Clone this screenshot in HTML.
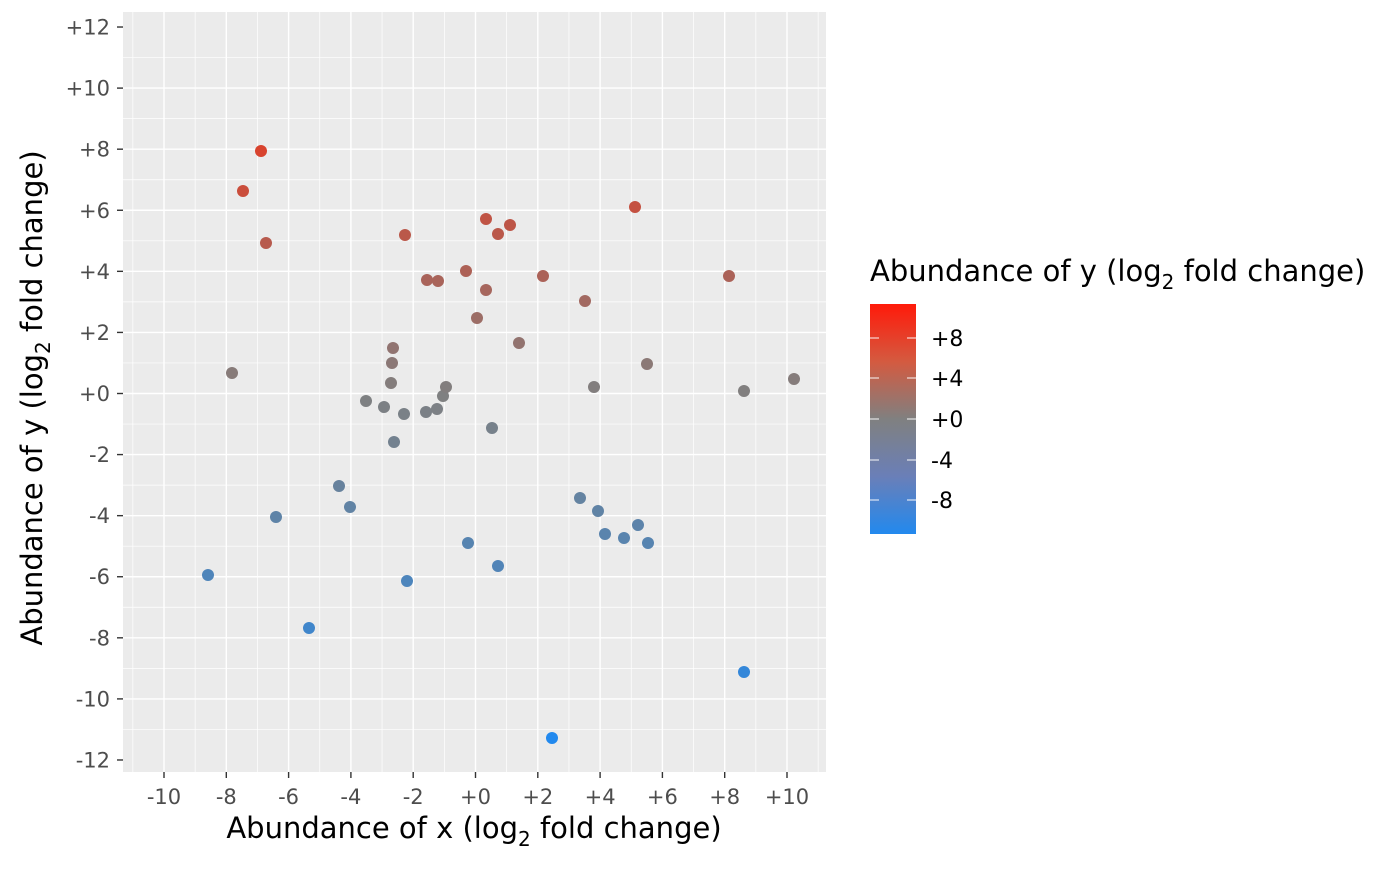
<!DOCTYPE html>
<html><head><meta charset="utf-8"><style>
body{margin:0;background:#fff;}
svg text{font-family:"DejaVu Sans","Liberation Sans",sans-serif;}
</style></head><body>
<svg id="s" width="1400" height="866" xmlns="http://www.w3.org/2000/svg">
<defs><linearGradient id="g" x1="0" y1="0" x2="0" y2="1">
<stop offset="0" stop-color="#ff1a0a"/>
<stop offset="0.25" stop-color="#d45a40"/>
<stop offset="0.5" stop-color="#808080"/>
<stop offset="0.75" stop-color="#6a7fb8"/>
<stop offset="1" stop-color="#2289ee"/>
</linearGradient></defs>
<rect x="123" y="12" width="703" height="760" fill="#ebebeb"/>
<g id="grid"></g>
<g id="pts"></g>
<g id="ax" fill="#4d4d4d" font-size="21"></g>
<text x="474" y="838" font-size="29" text-anchor="middle" fill="#000">Abundance of x (log<tspan font-size="20" dy="8">2</tspan><tspan dy="-8"> fold change)</tspan></text>
<text transform="translate(42,398) rotate(-90)" font-size="29" text-anchor="middle" fill="#000">Abundance of y (log<tspan font-size="20" dy="8">2</tspan><tspan dy="-8"> fold change)</tspan></text>
<text x="870" y="281" font-size="29" fill="#000">Abundance of y (log<tspan font-size="20" dy="8">2</tspan><tspan dy="-8"> fold change)</tspan></text>
<rect x="870" y="304" width="46" height="230" fill="url(#g)"/>
<g stroke="#fff" stroke-width="1.2" opacity="0.8">
<line x1="870" x2="879" y1="338" y2="338"/><line x1="907" x2="916" y1="338" y2="338"/>
<line x1="870" x2="879" y1="378" y2="378"/><line x1="907" x2="916" y1="378" y2="378"/>
<line x1="870" x2="879" y1="419" y2="419"/><line x1="907" x2="916" y1="419" y2="419"/>
<line x1="870" x2="879" y1="460" y2="460"/><line x1="907" x2="916" y1="460" y2="460"/>
<line x1="870" x2="879" y1="500" y2="500"/><line x1="907" x2="916" y1="500" y2="500"/>
</g>
<g font-size="22" fill="#000">
<text x="931" y="346">+8</text><text x="931" y="386">+4</text><text x="931" y="427">+0</text>
<text x="931" y="468">-4</text><text x="931" y="508">-8</text>
</g>
</svg>
<script>
var NS="http://www.w3.org/2000/svg";
function el(t,a,p){var e=document.createElementNS(NS,t);for(var k in a)e.setAttribute(k,a[k]);p.appendChild(e);return e;}
var grid=document.getElementById('grid'),ax=document.getElementById('ax'),pts=document.getElementById('pts');
function X(v){return 475.5+v*31.15;}function Y(v){return 393.5-v*30.54;}
for(var v=-11;v<=11;v++){var m=(v%2===0);
 el('line',{x1:X(v),x2:X(v),y1:12,y2:772,stroke:'#fff','stroke-width':m?1.4:0.7},grid);
 el('line',{x1:123,x2:826,y1:Y(v),y2:Y(v),stroke:'#fff','stroke-width':m?1.4:0.7},grid);}
for(var v=-12;v<=12;v+=2){var lab=(v>=0?'+':'')+v;
 el('line',{x1:117,x2:123,y1:Y(v),y2:Y(v),stroke:'#333','stroke-width':1.4},ax);
 var t=el('text',{x:110,y:Y(v)+7.5,'text-anchor':'end'},ax);t.textContent=lab;}
for(var v=-10;v<=10;v+=2){var lab=(v>=0?'+':'')+v;
 el('line',{x1:X(v),x2:X(v),y1:772,y2:778,stroke:'#333','stroke-width':1.4},ax);
 var t=el('text',{x:X(v),y:804,'text-anchor':'middle'},ax);t.textContent=lab;}
var P=[[261,151],[243,191],[266,243],[232,373],[208,575],[276,517],[309,628],[339,486],[350,507],[366,401],[384,407],[393,348],[392,363],[391,383],[394,442],[405,235],[404,414],[407,581],[426,412],[427,280],[438,281],[437,409],[443,396],[446,387],[466,271],[468,543],[477,318],[486,219],[486,290],[492,428],[498,234],[498,566],[510,225],[519,343],[543,276],[552,738],[580,498],[585,301],[594,387],[598,511],[605,534],[624,538],[635,207],[638,525],[647,364],[648,543],[729,276],[744,391],[744,672],[794,379]];
function mix(a,b,t){return [0,1,2].map(function(i){return Math.round(a[i]+(b[i]-a[i])*t);});}
P.forEach(function(p){var y=(393.5-p[1])/30.54,c;
 if(y>=0)c=mix([128,128,128],[255,40,10],Math.min(1,y/11.4));
 else c=mix([128,128,128],[34,137,238],Math.min(1,-y/11.3));
 el('circle',{cx:p[0],cy:p[1],r:6,fill:'rgb('+c.join(',')+')'},pts);});
</script>
</body></html>
